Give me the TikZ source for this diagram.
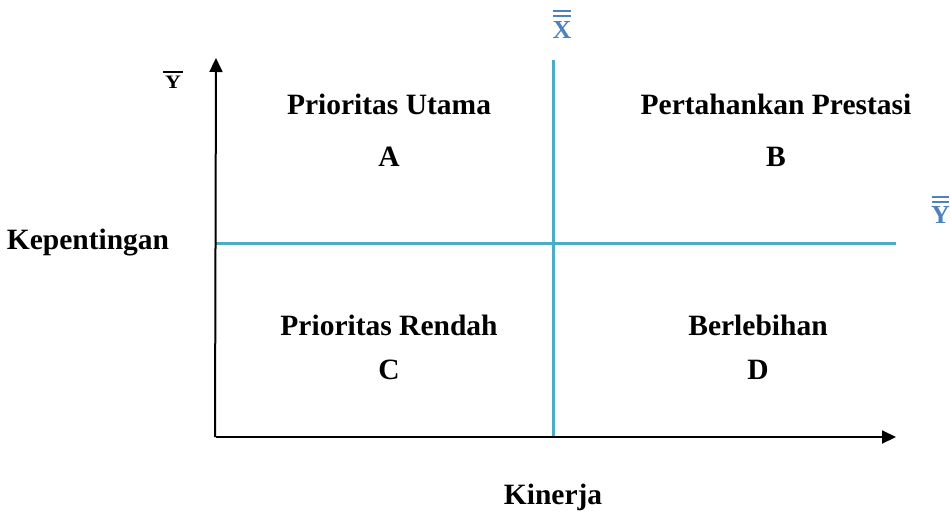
\documentclass[tikz,border=0pt]{standalone}
\usepackage{fontspec}
\setmainfont{Liberation Serif}
\usetikzlibrary{arrows.meta}
\definecolor{teal1}{RGB}{75,172,198}
\definecolor{blue1}{RGB}{79,129,189}
\begin{document}
\begin{tikzpicture}[x=1pt,y=-1pt,
  lbl/.style={font=\fontsize{29.5}{32}\selectfont\bfseries, inner sep=0pt},
  axis/.style={draw=black, line width=2pt, -{Triangle[length=14pt,width=13pt]}},
  mid/.style={draw=teal1, line width=3pt},
  bar/.style={line width=1.6pt}]
\useasboundingbox (0,0) rectangle (950,525);
\coordinate (O) at (216,437);
\coordinate (Ytop) at (216,58);
\coordinate (Xend) at (896,437);
\coordinate (Vt) at (553,60);
\coordinate (Vb) at (553,437);
\coordinate (Hl) at (216,243);
\coordinate (Hr) at (896,243);
\draw[mid] (Vt) -- (Vb);
\draw[mid] (Hl) -- (Hr);
\draw[axis] ([xshift=-1pt]O) -- (Ytop);
\draw[axis] (O) -- (Xend);
\node[lbl] (pu) at (389,104) {Prioritas Utama};
\node[lbl] (a) at (389,157) {A};
\node[lbl] (pp) at (776,104) {Pertahankan Prestasi};
\node[lbl] (b) at (776,157) {B};
\node[lbl] (pr) at (389,325) {Prioritas Rendah};
\node[lbl] (c) at (389,370) {C};
\node[lbl] (be) at (758,325) {Berlebihan};
\node[lbl] (d) at (758,370) {D};
\node[lbl] (kep) at (88,243) {Kepentingan};
\node[lbl] (kin) at (553,497) {Kinerja};
% Y bar top-left
\node[inner sep=0pt, xscale=1.15, font=\fontsize{19}{20}\selectfont\bfseries] (ybar) at (173,82) {Y};
\draw[bar, black] (163,72) -- (183,72);
% X double bar
\node[inner sep=0pt, text=blue1, font=\fontsize{26}{28}\selectfont\bfseries] (xbb) at (562,30) {X};
\draw[bar, blue1] (553,11) -- (571,11);
\draw[bar, blue1] (553,16) -- (571,16);
% Y double bar right
\node[inner sep=0pt, text=blue1, font=\fontsize{26}{28}\selectfont\bfseries, anchor=west] (ybb) at (931,215) {Y};
\draw[bar, blue1] (932,197) -- (949,197);
\draw[bar, blue1] (932,202) -- (949,202);
\end{tikzpicture}
\end{document}
